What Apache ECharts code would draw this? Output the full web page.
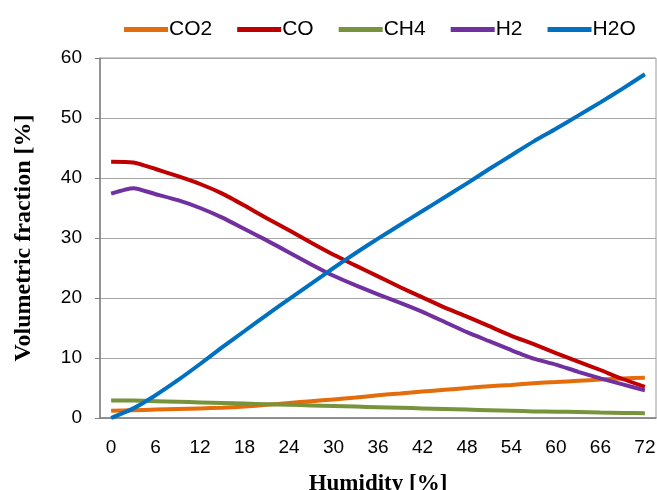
<!DOCTYPE html>
<html>
<head>
<meta charset="utf-8">
<script src="https://cdn.jsdelivr.net/npm/echarts@6/dist/echarts.min.js"></script>
<style>
  html, body { margin: 0; padding: 0; background: #fff; }
  #chart { width: 657px; height: 490px; }
</style>
</head>
<body>
<div id="chart"></div>
<script>
// humidity steps (%), every 3
var humidity = ['0','3','6','9','12','15','18','21','24','27','30','33','36',
  '39','42','45','48','51','54','57','60','63','66','69','72'];

var co2 = [1.2,1.3,1.4,1.5,1.6,1.7,1.9,2.2,2.5,2.8,3.1,3.4,3.8,4.1,4.4,4.7,5.0,5.3,5.5,5.8,6.0,6.2,6.4,6.6,6.7];
var co  = [42.7,42.6,41.5,40.3,39.0,37.4,35.4,33.3,31.3,29.2,27.2,25.4,23.6,21.8,20.1,18.4,16.9,15.3,13.7,12.3,10.8,9.4,8.0,6.5,5.2];
var ch4 = [2.9,2.9,2.8,2.7,2.6,2.5,2.4,2.3,2.2,2.1,2.0,1.9,1.8,1.7,1.6,1.5,1.4,1.3,1.2,1.1,1.05,1.0,0.9,0.85,0.8];
var h2  = [37.4,38.3,37.3,36.3,35.0,33.4,31.5,29.6,27.6,25.6,23.7,22.1,20.6,19.2,17.7,16.0,14.3,12.8,11.3,9.9,8.9,7.7,6.6,5.6,4.6];
var h2o = [0,1.6,3.8,6.3,9.0,11.8,14.5,17.2,19.8,22.4,25.0,27.5,29.9,32.2,34.5,36.8,39.1,41.5,43.8,46.1,48.2,50.4,52.6,54.9,57.3];

var names = ['CO2','CO','CH4','H2','H2O'];
var colors = ['#E46C0A','#C00000','#77933C','#7030A0','#0070C0'];
var values = [co2, co, ch4, h2, h2o];

var chart = echarts.init(document.getElementById('chart'));

var seriesList = [];
for (var i = 0; i < names.length; i++) {
  seriesList.push({
    name: names[i],
    type: 'line',
    data: values[i],
    symbol: 'none',
    smooth: 0.2,
    lineStyle: { width: 4, color: colors[i] },
    itemStyle: { color: colors[i] }
  });
}

var option = {
  animation: false,
  color: colors,
  legend: {
    top: 14,
    left: 119,
    itemWidth: 44,
    itemHeight: 5,
    itemGap: 25,
    icon: 'rect',
    textStyle: { fontFamily: 'Liberation Sans', fontSize: 21, color: '#000', padding: [0, 0, 0, -4] },
    data: names
  },
  grid: {
    left: 100, right: 1, top: 58, bottom: 72,
    outerBoundsMode: 'none',
    containLabel: false,
    show: true, borderColor: '#9a9a9a', borderWidth: 1
  },
  xAxis: {
    type: 'category',
    data: humidity,
    boundaryGap: true,
    axisLine: { lineStyle: { color: '#808080', width: 1.5 } },
    axisTick: { show: false },
    axisLabel: { interval: 1, margin: 20, fontFamily: 'Liberation Sans', fontSize: 19, color: '#000' },
    name: 'Humidity [%]',
    nameLocation: 'middle',
    nameGap: 55,
    nameTextStyle: { fontFamily: 'Liberation Serif', fontWeight: 'bold', fontSize: 23, color: '#000' }
  },
  yAxis: {
    type: 'value',
    min: 0, max: 60, interval: 10,
    axisLine: { show: true, lineStyle: { color: '#808080', width: 1.5 } },
    axisTick: { show: true, length: 5, lineStyle: { color: '#808080' } },
    splitLine: { lineStyle: { color: '#a6a6a6', width: 1 } },
    axisLabel: { margin: 18, fontFamily: 'Liberation Sans', fontSize: 19, color: '#000' },
    name: 'Volumetric fraction [%]',
    nameLocation: 'middle',
    nameGap: 64,
    nameTextStyle: { fontFamily: 'Liberation Serif', fontWeight: 'bold', fontSize: 24, color: '#000' }
  },
  series: seriesList
};

chart.setOption(option);
</script>
</body>
</html>
